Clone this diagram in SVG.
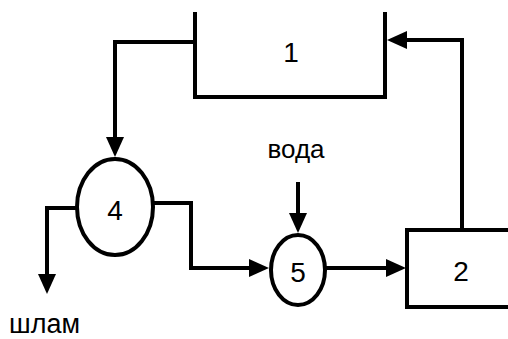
<svg xmlns="http://www.w3.org/2000/svg" width="508" height="339" viewBox="0 0 508 339">
<style>
.s{fill:none;stroke:#000;stroke-width:4;stroke-linejoin:miter}
.n{fill:#fff;stroke:#000;stroke-width:4}
.t{font-family:"Liberation Sans",Arial,sans-serif;font-size:28px;fill:#000;text-anchor:middle}
.l{font-family:"Liberation Sans",Arial,sans-serif;font-size:26px;fill:#000}
</style>
<defs>
<marker id="a" markerUnits="userSpaceOnUse" markerWidth="20" markerHeight="18" refX="10" refY="9" orient="auto" viewBox="0 0 20 18">
<path d="M0,0 L20,9 L0,18 z" fill="#000"/>
</marker>
</defs>
<rect width="508" height="339" fill="#fff"/>
<g id="connectors">
<path class="s" d="M195,42 H115 V147" marker-end="url(#a)"/>
<path class="s" d="M462,230 V40 H397" marker-end="url(#a)"/>
<path class="s" d="M77,208 H47 V284" marker-end="url(#a)"/>
<path class="s" d="M153,203 H191 V268 H259" marker-end="url(#a)"/>
<path class="s" d="M298,182 V223" marker-end="url(#a)"/>
<path class="s" d="M325,268 H396" marker-end="url(#a)"/>
</g>
<g id="node1">
<path class="s" d="M195,12 V97 H385 V12"/>
<text class="t" x="291" y="62">1</text>
</g>
<g id="node2">
<rect class="n" x="407" y="230" width="130" height="77"/>
<text class="t" x="461" y="281">2</text>
</g>
<g id="node4">
<ellipse class="n" cx="115" cy="207" rx="38" ry="48"/>
<text class="t" x="115" y="220">4</text>
</g>
<g id="node5">
<ellipse class="n" cx="298" cy="270" rx="27" ry="35"/>
<text class="t" x="298" y="282">5</text>
</g>
<g id="labels">
<text class="l" x="296" y="158" text-anchor="middle">вода</text>
<text class="l" x="9" y="333" style="font-size:27px">шлам</text>
</g>
</svg>
